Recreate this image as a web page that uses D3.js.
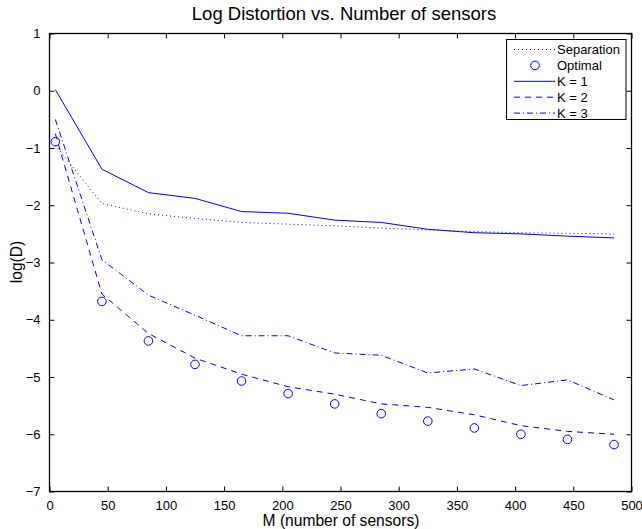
<!DOCTYPE html>
<meta charset="utf-8">
<head>
  <style>
    body { margin: 0; background: #fff; }
    svg { display: block; }
    text { font-family: 'Liberation Sans', Arial, sans-serif; fill: #000; }
  </style>
</head>
<body>
<svg id="chart" width="642" height="529"></svg>
<script src="https://d3js.org/d3.v7.min.js"></script>
<script>
  // sensor counts along x
  var M = [5, 45, 85, 125, 165, 205, 245, 285, 325, 365, 405, 445, 485];

  // log distortion
  var separation = [-0.95, -1.97, -2.15, -2.23, -2.30, -2.33, -2.36, -2.40, -2.43, -2.46, -2.48, -2.49, -2.50];
  var optimal    = [-0.89, -3.68, -4.37, -4.78, -5.07, -5.29, -5.47, -5.64, -5.77, -5.89, -6.00, -6.09, -6.18];
  var k1         = [0.02, -1.37, -1.78, -1.88, -2.11, -2.14, -2.26, -2.30, -2.42, -2.48, -2.50, -2.54, -2.57];
  var k2         = [-0.75, -3.55, -4.24, -4.67, -4.95, -5.17, -5.30, -5.47, -5.53, -5.66, -5.85, -5.95, -6.00];
  var k3         = [-0.5, -2.95, -3.57, -3.92, -4.28, -4.28, -4.58, -4.62, -4.93, -4.86, -5.15, -5.05, -5.40];

  var xTicks = [0, 50, 100, 150, 200, 250, 300, 350, 400, 450, 500];
  var yTicks = [-7, -6, -5, -4, -3, -2, -1, 0, 1];

  var blue = "#0000ff";
  // (don't call these top/left, window.top is read-only)
  var pL = 49.5, pR = 631.5, pT = 33.5, pB = 491.5;

  var svg = d3.select("#chart");

  var x = d3.scaleLinear().domain([0, 500]).range([pL, pR]);
  var y = d3.scaleLinear().domain([-7, 1]).range([pB, pT]);

  // axes, ticks point inward like matlab
  var tl = 5;
  svg.append("g").attr("transform", "translate(0," + pB + ")")
     .call(d3.axisBottom(x).tickValues(xTicks).tickSizeInner(-tl).tickSizeOuter(0).tickPadding(9).tickFormat(d3.format("d")));
  svg.append("g").attr("transform", "translate(0," + pT + ")")
     .call(d3.axisTop(x).tickValues(xTicks).tickSizeInner(-tl).tickSizeOuter(0).tickFormat(""));
  svg.append("g").attr("transform", "translate(" + pL + ",0)")
     .call(d3.axisLeft(y).tickValues(yTicks).tickSizeInner(-tl).tickSizeOuter(0).tickPadding(9)
       .tickFormat(function (d) { return d < 0 ? "\u2212" + Math.abs(d) : d; }));
  svg.append("g").attr("transform", "translate(" + pR + ",0)")
     .call(d3.axisRight(y).tickValues(yTicks).tickSizeInner(-tl).tickSizeOuter(0).tickFormat(""));

  svg.selectAll(".domain").remove();
  svg.selectAll(".tick line").attr("stroke", "#000");
  svg.selectAll(".tick text").style("font-family", "'Liberation Sans', Arial, sans-serif").style("font-size", "13px");
  svg.append("rect")
     .attr("x", pL).attr("y", pT)
     .attr("width", pR - pL).attr("height", pB - pT)
     .attr("fill", "none").attr("stroke", "#000").attr("stroke-width", 1.3);

  var line = d3.line()
    .x(function (d, i) { return x(M[i]); })
    .y(function (d) { return y(d); });

  var series = [
    { name: "Separation", vals: separation, dash: "1,3" },
    { name: "K = 1", vals: k1, dash: null },
    { name: "K = 2", vals: k2, dash: "6,5" },
    { name: "K = 3", vals: k3, dash: "6,3,1,3" }
  ];

  series.forEach(function (s) {
    svg.append("path")
       .datum(s.vals)
       .attr("d", line)
       .attr("fill", "none")
       .attr("stroke", blue)
       .attr("stroke-width", 1)
       .attr("stroke-dasharray", s.dash);
  });

  svg.selectAll(".opt")
     .data(optimal)
     .enter().append("circle")
     .attr("class", "opt")
     .attr("cx", function (d, i) { return x(M[i]); })
     .attr("cy", function (d) { return y(d); })
     .attr("r", 4.3)
     .attr("fill", "none")
     .attr("stroke", blue)
     .attr("stroke-width", 1);

  // titles
  svg.append("text").attr("x", 344).attr("y", 20).attr("text-anchor", "middle")
     .style("font-size", "18.5px").text("Log Distortion vs. Number of sensors");
  svg.append("text").attr("x", 341).attr("y", 526).attr("text-anchor", "middle")
     .style("font-size", "15.6px").text("M (number of sensors)");
  svg.append("text").attr("transform", "translate(22,262) rotate(-90)").attr("text-anchor", "middle")
     .style("font-size", "15.6px").text("log(D)");

  // legend
  var lg = svg.append("g");
  lg.append("rect").attr("x", 506.5).attr("y", 39.5).attr("width", 119.5).attr("height", 80)
    .attr("fill", "#fff").attr("stroke", "#000").attr("stroke-width", 1);
  var rows = ["Separation", "Optimal", "K = 1", "K = 2", "K = 3"];
  var dashes = ["1,3", null, null, "6,5", "6,3,1,3"];
  rows.forEach(function (r, i) {
    var ry = 49.5 + i * 15.9;
    if (r === "Optimal") {
      lg.append("circle").attr("cx", 535).attr("cy", ry).attr("r", 4.3)
        .attr("fill", "none").attr("stroke", blue);
    } else {
      lg.append("line").attr("x1", 514).attr("x2", 555).attr("y1", ry).attr("y2", ry)
        .attr("stroke", blue).attr("stroke-width", 1).attr("stroke-dasharray", dashes[i]);
    }
    lg.append("text").attr("x", 557).attr("y", ry + 4.5).style("font-size", "13px").text(r);
  });
</script>
</body>
